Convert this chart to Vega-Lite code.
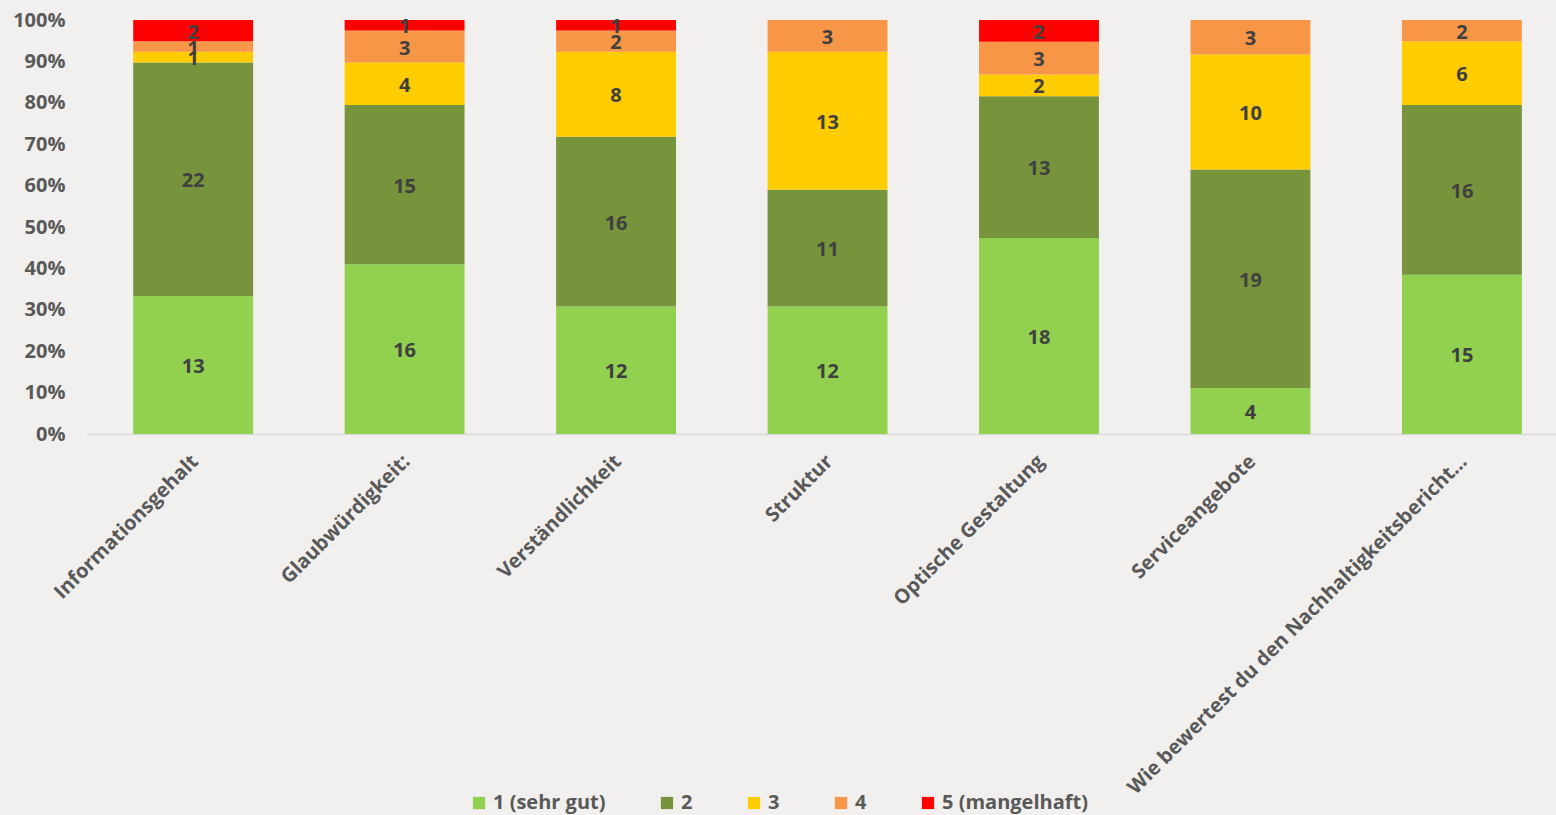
{
  "$schema": "https://vega.github.io/schema/vega-lite/v6.json",
  "width": 1469,
  "height": 414,
  "autosize": {"type": "none"},
  "padding": {"left": 87, "top": 20, "right": 0, "bottom": 381},
  "background": "#F1F0EE",
  "config": {"view": {"stroke": null}, "font": "Open Sans"},
  "data": {
    "values": [
      {"item": "Informationsgehalt", "rating": "1 (sehr gut)", "count": 13},
      {"item": "Informationsgehalt", "rating": "2", "count": 22},
      {"item": "Informationsgehalt", "rating": "3", "count": 1},
      {"item": "Informationsgehalt", "rating": "4", "count": 1},
      {"item": "Informationsgehalt", "rating": "5 (mangelhaft)", "count": 2},
      {"item": "Glaubwürdigkeit:", "rating": "1 (sehr gut)", "count": 16},
      {"item": "Glaubwürdigkeit:", "rating": "2", "count": 15},
      {"item": "Glaubwürdigkeit:", "rating": "3", "count": 4},
      {"item": "Glaubwürdigkeit:", "rating": "4", "count": 3},
      {"item": "Glaubwürdigkeit:", "rating": "5 (mangelhaft)", "count": 1},
      {"item": "Verständlichkeit", "rating": "1 (sehr gut)", "count": 12},
      {"item": "Verständlichkeit", "rating": "2", "count": 16},
      {"item": "Verständlichkeit", "rating": "3", "count": 8},
      {"item": "Verständlichkeit", "rating": "4", "count": 2},
      {"item": "Verständlichkeit", "rating": "5 (mangelhaft)", "count": 1},
      {"item": "Struktur", "rating": "1 (sehr gut)", "count": 12},
      {"item": "Struktur", "rating": "2", "count": 11},
      {"item": "Struktur", "rating": "3", "count": 13},
      {"item": "Struktur", "rating": "4", "count": 3},
      {"item": "Optische Gestaltung", "rating": "1 (sehr gut)", "count": 18},
      {"item": "Optische Gestaltung", "rating": "2", "count": 13},
      {"item": "Optische Gestaltung", "rating": "3", "count": 2},
      {"item": "Optische Gestaltung", "rating": "4", "count": 3},
      {"item": "Optische Gestaltung", "rating": "5 (mangelhaft)", "count": 2},
      {"item": "Serviceangebote", "rating": "1 (sehr gut)", "count": 4},
      {"item": "Serviceangebote", "rating": "2", "count": 19},
      {"item": "Serviceangebote", "rating": "3", "count": 10},
      {"item": "Serviceangebote", "rating": "4", "count": 3},
      {"item": "Wie bewertest du den Nachhaltigkeitsbericht…", "rating": "1 (sehr gut)", "count": 15},
      {"item": "Wie bewertest du den Nachhaltigkeitsbericht…", "rating": "2", "count": 16},
      {"item": "Wie bewertest du den Nachhaltigkeitsbericht…", "rating": "3", "count": 6},
      {"item": "Wie bewertest du den Nachhaltigkeitsbericht…", "rating": "4", "count": 2}
    ]
  },
  "transform": [
    {"stack": "count", "groupby": ["item"], "sort": [{"field": "rating", "order": "ascending"}], "offset": "normalize", "as": ["y0", "y1"]}
  ],
  "encoding": {
    "x": {
      "field": "item",
      "type": "nominal",
      "sort": null,
      "scale": {"paddingInner": 0.433, "paddingOuter": 0.19, "align": 0.575},
      "axis": {
        "title": null,
        "labelAngle": -45,
        "labelFontSize": 20,
        "labelFontWeight": "bold",
        "labelColor": "#595959",
        "labelPadding": 17,
        "labelOffset": -5,
        "labelLimit": 1000,
        "ticks": false,
        "domainColor": "#D9D9D9",
        "domainWidth": 1.5
      }
    }
  },
  "layer": [
    {
      "mark": {"type": "bar"},
      "encoding": {
        "y": {
          "field": "y0",
          "type": "quantitative",
          "scale": {"domain": [0, 1], "nice": false},
          "axis": {
            "title": null,
            "format": ".0%",
            "values": [0, 0.1, 0.2, 0.3, 0.4, 0.5, 0.6, 0.7, 0.8, 0.9, 1],
            "grid": false,
            "domain": false,
            "ticks": false,
            "labelFontSize": 20,
            "labelFontWeight": "bold",
            "labelColor": "#595959",
            "labelPadding": 22
          }
        },
        "y2": {"field": "y1"},
        "color": {
          "field": "rating",
          "type": "nominal",
          "scale": {
            "domain": ["1 (sehr gut)", "2", "3", "4", "5 (mangelhaft)"],
            "range": ["#92D050", "#77933C", "#FFCC00", "#F79646", "#FF0000"]
          },
          "legend": {
            "title": null,
            "orient": "none",
            "direction": "horizontal",
            "columns": 5,
            "legendX": 382,
            "legendY": 773,
            "symbolType": "square",
            "symbolSize": 150,
            "symbolStrokeWidth": 0,
            "labelFontSize": 20,
            "labelFontWeight": "bold",
            "labelColor": "#595959",
            "labelOffset": 4,
            "columnPadding": 51
          }
        }
      }
    },
    {
      "transform": [
        {"fold": ["y0", "y1"], "as": ["edge", "pos"]},
        {"aggregate": [{"op": "mean", "field": "pos", "as": "ymid"}], "groupby": ["item", "rating", "count"]}
      ],
      "mark": {"type": "text", "fontSize": 20, "fontWeight": "bold", "color": "#404040", "dy": 2},
      "encoding": {
        "y": {"field": "ymid", "type": "quantitative"},
        "text": {"field": "count", "type": "quantitative"}
      }
    }
  ]
}
